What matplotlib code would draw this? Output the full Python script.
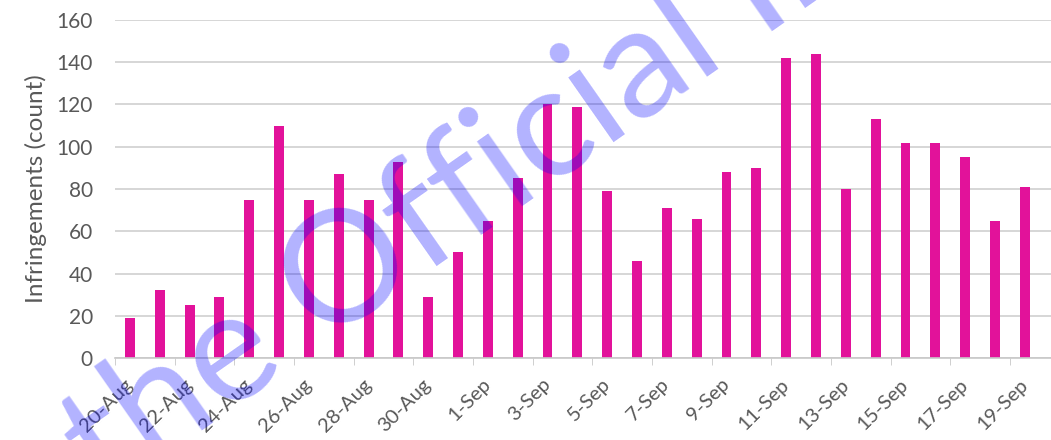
import matplotlib
matplotlib.use("Agg")
import matplotlib.pyplot as plt
import numpy as np

plt.rcParams["font.family"] = ["Lato", "DejaVu Sans"]

# daily infringement counts, 20-Aug .. 19-Sep
dates = ["20-Aug", "21-Aug", "22-Aug", "23-Aug", "24-Aug", "25-Aug", "26-Aug",
         "27-Aug", "28-Aug", "29-Aug", "30-Aug", "31-Aug", "1-Sep", "2-Sep",
         "3-Sep", "4-Sep", "5-Sep", "6-Sep", "7-Sep", "8-Sep", "9-Sep",
         "10-Sep", "11-Sep", "12-Sep", "13-Sep", "14-Sep", "15-Sep", "16-Sep",
         "17-Sep", "18-Sep", "19-Sep"]
counts = [19, 32, 25, 29, 75, 110, 75, 87, 75, 93, 29, 50, 65, 85, 120, 119,
          79, 46, 71, 66, 88, 90, 142, 144, 80, 113, 102, 102, 95, 65, 81]
yticks = [0, 20, 40, 60, 80, 100, 120, 140, 160]

W, H = 1051, 440
fig = plt.figure(figsize=(W / 100, H / 100), dpi=100)
ax = fig.add_axes([115 / W, 1 - 358 / H, 1 - 115 / W, (358 - 20) / H])

x = np.arange(len(dates))
ax.bar(x, counts, width=0.33, color="#E2129A", zorder=2)

ax.set_ylim(0, 160)
ax.set_xlim(-0.5, (W - 130) / 29.83)
ax.set_yticks(yticks)
ax.grid(axis="y", color="#D0D0D0", lw=1.2, zorder=0)
ax.tick_params(axis="y", length=0, pad=16, labelsize=15, labelcolor="#595959")

# labels every second day, tick marks between categories
ax.set_xticks(x[::2])
ax.set_xticklabels(dates[::2], rotation=45, ha="right", va="center",
                   rotation_mode="anchor", fontsize=14.5, color="#595959")
ax.tick_params(axis="x", length=0, pad=17)
ax.set_xticks(np.arange(-0.5, len(dates), 2), minor=True)
ax.tick_params(axis="x", which="minor", length=5, color="#C8C8C8")

for side in ("top", "right", "left"):
    ax.spines[side].set_visible(False)
ax.spines["bottom"].set_color("#C8C8C8")
ax.spines["bottom"].set_linewidth(1.2)

ax.set_ylabel("Infringements (count)", fontsize=17.5, color="#595959", labelpad=7)

# watermark across the page
fig.text(105 / W, 1 - 498 / H, "the Official In", fontsize=112,
         color="#0000FF", alpha=0.3, rotation=35, rotation_mode="anchor",
         ha="left", va="baseline", zorder=10)

fig.savefig("out.png", dpi=100)
